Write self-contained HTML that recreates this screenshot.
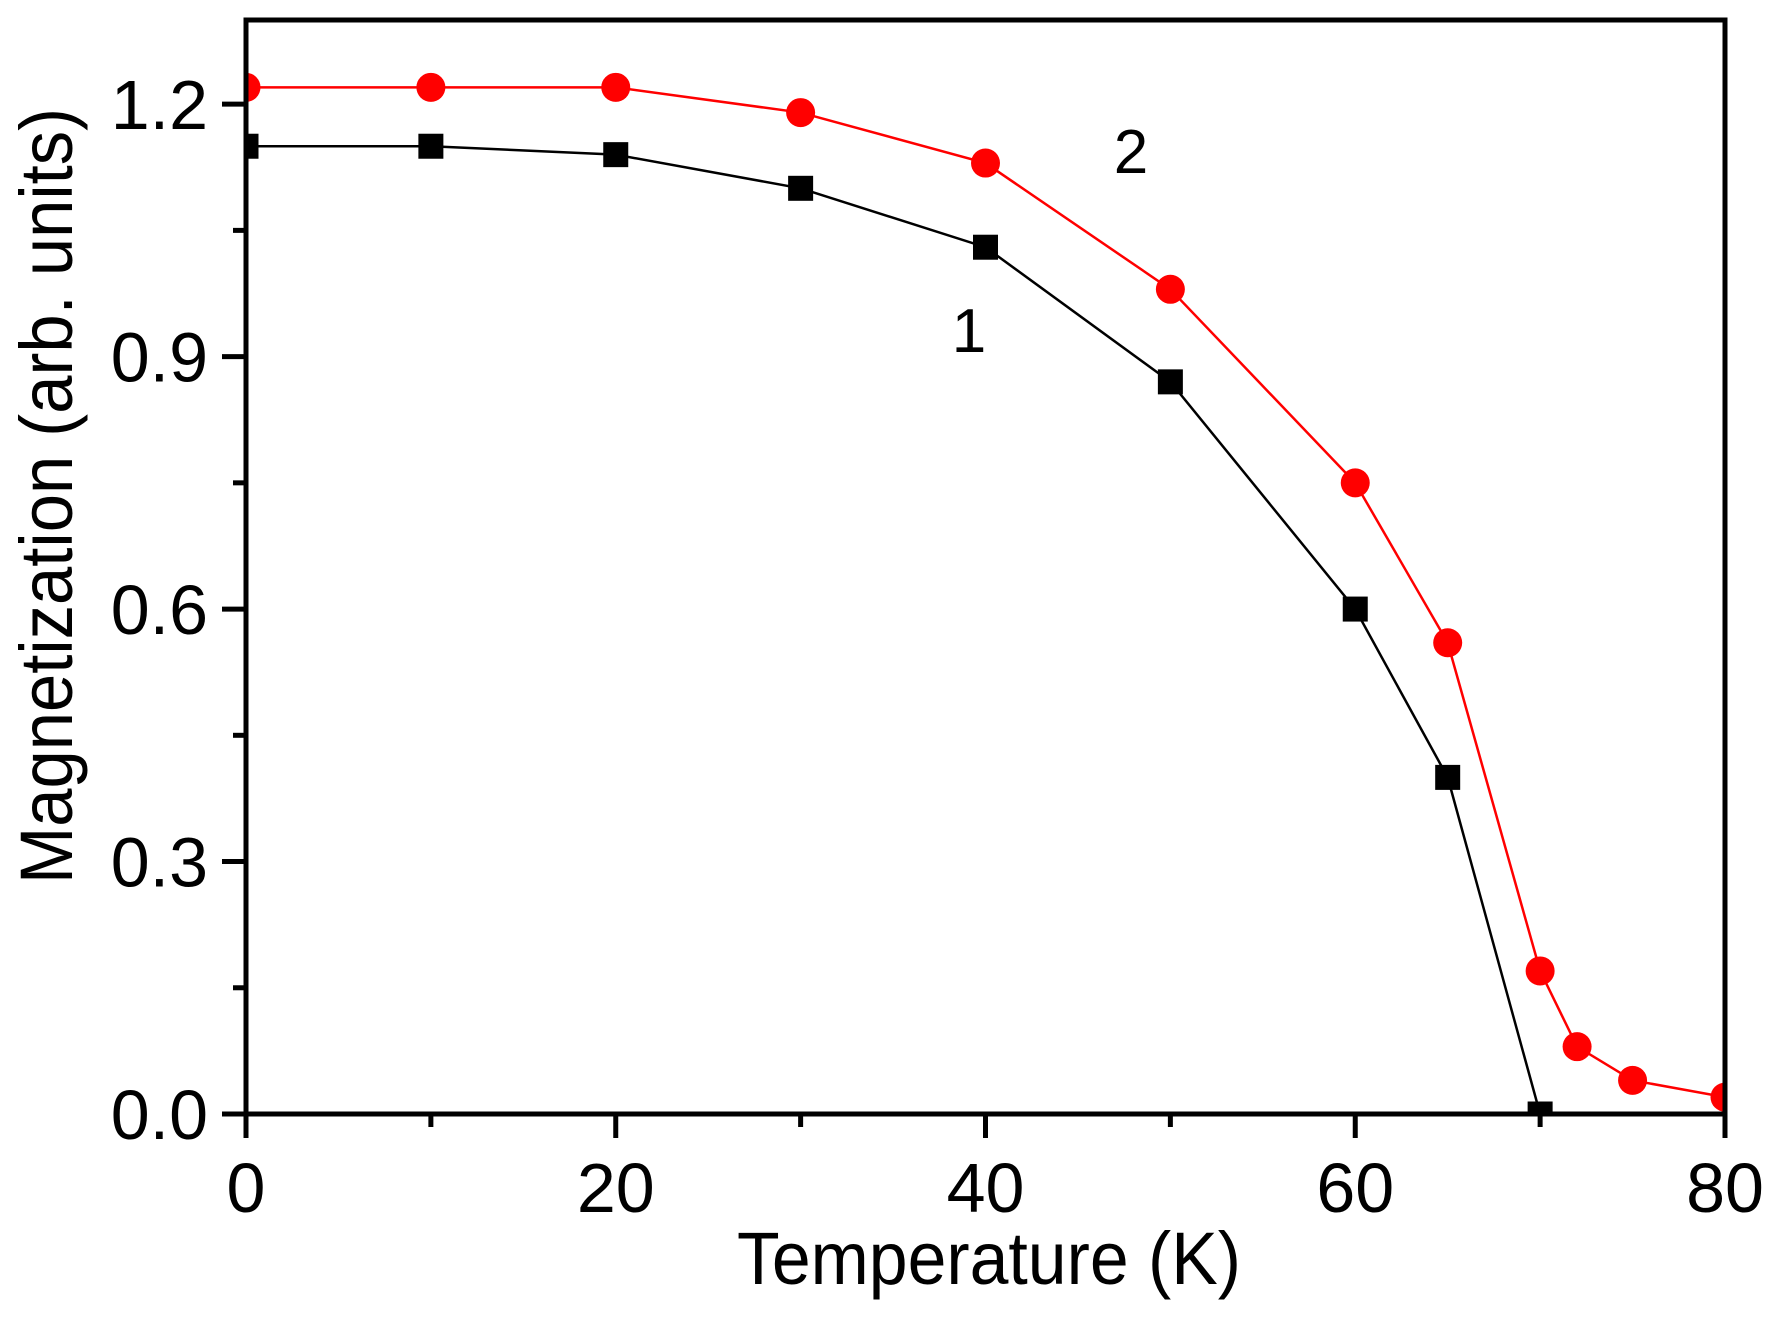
<!DOCTYPE html>
<html><head><meta charset="utf-8"><style>
html,body{margin:0;padding:0;background:#fff;}
svg text{font-family:"Liberation Sans",Arial,sans-serif;fill:#000;}
</style></head><body>
<svg id="chart" width="1777" height="1318" viewBox="0 0 1777 1318" xmlns="http://www.w3.org/2000/svg">
<defs><clipPath id="plotclip"><rect x="246" y="20" width="1479" height="1094"/></clipPath></defs>
<g id="grid"></g>
<g id="series" clip-path="url(#plotclip)"></g>
<rect x="246" y="20" width="1479" height="1094" fill="none" stroke="#000" stroke-width="5"/>
<g id="axes"></g>
<text x="737" y="1284" font-size="74" textLength="504" lengthAdjust="spacingAndGlyphs">Temperature (K)</text>
<text transform="translate(72,884) rotate(-90)" font-size="74" textLength="776" lengthAdjust="spacingAndGlyphs">Magnetization (arb. units)</text>
<text x="969" y="352" font-size="62" text-anchor="middle">1</text>
<text x="1131" y="173" font-size="62" text-anchor="middle">2</text>
</svg>
<script>
const xTicks = [0, 20, 40, 60, 80];
const xMinor = [10, 30, 50, 70];
const yTicks = [0.0, 0.3, 0.6, 0.9, 1.2];
const yTickLabels = ["0.0", "0.3", "0.6", "0.9", "1.2"];
const yMinor = [0.15, 0.45, 0.75, 1.05];
const t1 = [0, 10, 20, 30, 40, 50, 60, 65, 70];
const m1 = [1.15, 1.15, 1.14, 1.10, 1.03, 0.87, 0.60, 0.40, 0.0];
const t2 = [0, 10, 20, 30, 40, 50, 60, 65, 70, 72, 75, 80];
const m2 = [1.22, 1.22, 1.22, 1.19, 1.13, 0.98, 0.75, 0.56, 0.17, 0.08, 0.04, 0.02];

const X0 = 246, X1 = 1725, Y0 = 1114, Y1 = 20;
const xMin = 0, xMax = 80, yMin = 0, yMax = 1.3;
function sx(v){ return X0 + (v - xMin) / (xMax - xMin) * (X1 - X0); }
function sy(v){ return Y0 - (v - yMin) / (yMax - yMin) * (Y0 - Y1); }
const NS = "http://www.w3.org/2000/svg";
function mk(tag, attrs, parent){
  const e = document.createElementNS(NS, tag);
  for (const k in attrs) e.setAttribute(k, attrs[k]);
  parent.appendChild(e);
  return e;
}
const axes = document.getElementById('axes');
const series = document.getElementById('series');

xTicks.forEach((v) => {
  const l = mk('line', {x1: sx(v), x2: sx(v), y1: Y0, y2: Y0 + 24, stroke: '#000', 'stroke-width': 5}, axes);
  
  
  const t = mk('text', {x: sx(v), y: Y0 + 98, 'font-size': 70, 'text-anchor': 'middle'}, axes);
  t.textContent = String(v);
  
  
});
xMinor.forEach((v) => {
  const l = mk('line', {x1: sx(v), x2: sx(v), y1: Y0, y2: Y0 + 13, stroke: '#000', 'stroke-width': 5}, axes);
  
  
});
yTicks.forEach((v, i) => {
  const l = mk('line', {x1: X0 - 24, x2: X0, y1: sy(v), y2: sy(v), stroke: '#000', 'stroke-width': 5}, axes);
  
  
  const t = mk('text', {x: 208, y: sy(v) + 25, 'font-size': 70, 'text-anchor': 'end'}, axes);
  t.textContent = yTickLabels[i];
  
  
});
yMinor.forEach((v) => {
  const l = mk('line', {x1: X0 - 13, x2: X0, y1: sy(v), y2: sy(v), stroke: '#000', 'stroke-width': 5}, axes);
  
  
});

const p2 = mk('polyline', {points: t2.map((t, i) => sx(t) + ',' + sy(m2[i])).join(' '), fill: 'none', stroke: '#ff0000', 'stroke-width': 2.5}, series);


const p1 = mk('polyline', {points: t1.map((t, i) => sx(t) + ',' + sy(m1[i])).join(' '), fill: 'none', stroke: '#000', 'stroke-width': 2.5}, series);


t2.forEach((t, i) => {
  const c = mk('circle', {cx: sx(t), cy: sy(m2[i]), r: 14.5, fill: '#ff0000'}, series);
  
  
});
t1.forEach((t, i) => {
  const r = mk('rect', {x: sx(t) - 12.5, y: sy(m1[i]) - 12.5, width: 25, height: 25, fill: '#000'}, series);
  
  
});
</script>
</body></html>
